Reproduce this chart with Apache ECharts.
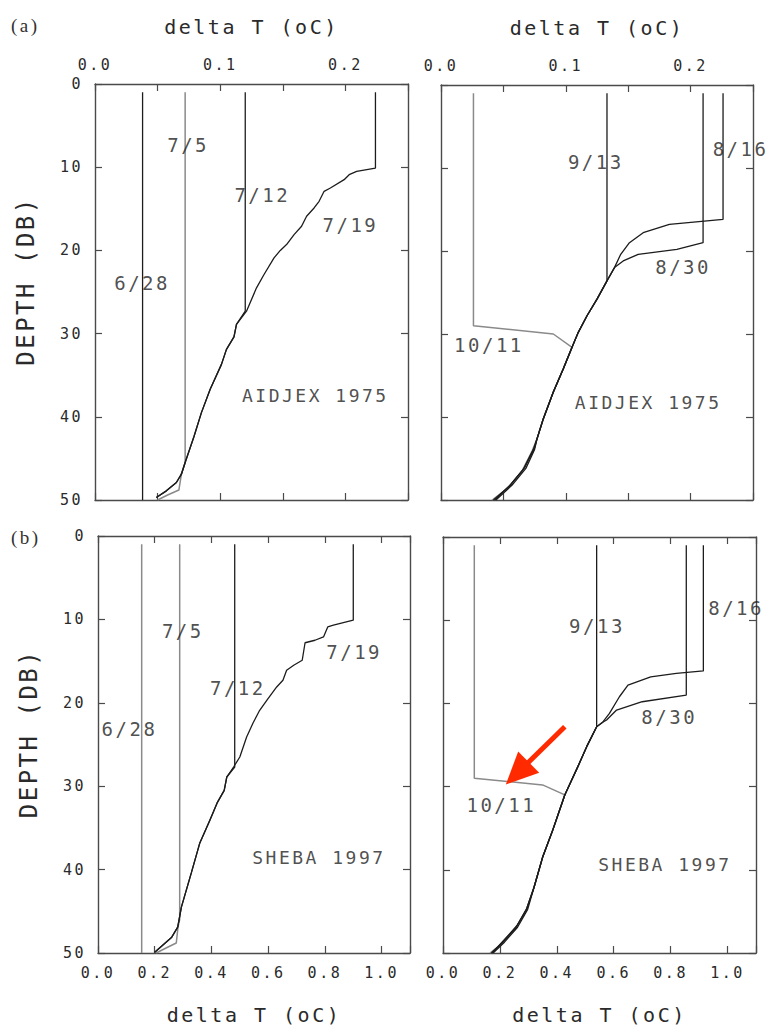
<!DOCTYPE html>
<html>
<head>
<meta charset="utf-8">
<script src="https://cdn.jsdelivr.net/npm/echarts@6/dist/echarts.min.js"></script>
<style>
  html, body { margin: 0; padding: 0; background: #fff; }
  #chart { width: 770px; height: 1029px; letter-spacing: 2.5px; }
</style>
</head>
<body>
<div id="chart"></div>
<script>
// Temperature departure (delta T, oC) versus depth (db) for the upper ocean.
// Row (a): AIDJEX 1975, row (b): SHEBA 1997. Left: early summer, right: late summer.

// ---- (a) AIDJEX 1975, early summer ----
const aidjexEarlyDates = ['6/28', '7/5', '7/12', '7/19'];
const aidjexEarlyHeads = [
  [[0.038, 1], [0.038, 50]],
  [[0.072, 1], [0.072, 45.5], [0.069, 46.9], [0.067, 48.8], [0.058, 49.4], [0.050, 50]],
  [[0.120, 1], [0.120, 27.3]],
  [[0.224, 1]]
];
const aidjexEarlyCurve = [
  [0.224, 10.1], [0.209, 10.5], [0.203, 10.9], [0.199, 11.5], [0.188, 12.5], [0.183, 12.9],
  [0.179, 14.1], [0.175, 14.9], [0.169, 15.9], [0.165, 17.1], [0.159, 18.1], [0.153, 19.3],
  [0.148, 20.0], [0.143, 20.9], [0.135, 22.9], [0.129, 24.5], [0.121, 27.3], [0.113, 28.9],
  [0.111, 30.4], [0.105, 31.9], [0.101, 33.7], [0.092, 36.7], [0.085, 39.5], [0.079, 42.4],
  [0.072, 45.5], [0.069, 46.9], [0.065, 47.9], [0.057, 48.9], [0.049, 49.7]
];
const aidjexEarlyDeep = [[], [], [], []];
const aidjexEarlyLabels = ['7/5', '7/12', '7/19', '6/28', 'AIDJEX 1975'];
const aidjexEarlyLabelAt = [[0.0744, 7.3], [0.1336, 13.3], [0.204, 16.9], [0.0376, 23.9], [0.176, 37.4]];

// ---- (a) AIDJEX 1975, late summer ----
const aidjexLateDates = ['8/16', '8/30', '9/13', '10/11'];
const aidjexLateHeads = [
  [[0.226, 1], [0.226, 16.2], [0.183, 16.8], [0.162, 17.8], [0.151, 19.0], [0.144, 20.4], [0.139, 22.0]],
  [[0.210, 1], [0.210, 19.0], [0.189, 19.8], [0.158, 20.4], [0.146, 21.2], [0.139, 22.0]],
  [[0.133, 1], [0.133, 23.6]],
  [[0.026, 1], [0.026, 29.0], [0.090, 30.0], [0.105, 31.6]]
];
const aidjexLateCurve = [
  [0.139, 22.0], [0.133, 23.6], [0.125, 25.8], [0.117, 27.8], [0.110, 29.8], [0.105, 31.6],
  [0.098, 34.2], [0.090, 37.0], [0.082, 40.2], [0.077, 42.6]
];
const aidjexLateDeep = [
  [[0.075, 43.9], [0.068, 46.2], [0.057, 48.2], [0.044, 50]],
  [[0.074, 43.9], [0.066, 46.3], [0.055, 48.3], [0.042, 50]],
  [[0.075, 43.7], [0.067, 46.1], [0.056, 48.1], [0.043, 50]],
  [[0.073, 44.1], [0.065, 46.5], [0.054, 48.5], [0.041, 50]]
];
const aidjexLateLabels = ['8/16', '9/13', '8/30', '10/11', 'AIDJEX 1975'];
const aidjexLateLabelAt = [[0.240, 7.7], [0.124, 9.3], [0.194, 21.9], [0.0384, 31.3], [0.166, 38.2]];

// ---- (b) SHEBA 1997, early summer ----
const shebaEarlyDates = ['6/28', '7/5', '7/12', '7/19'];
const shebaEarlyHeads = [
  [[0.154, 1], [0.154, 50]],
  [[0.288, 1], [0.288, 46.0], [0.282, 46.9], [0.276, 48.8], [0.240, 49.4], [0.205, 50]],
  [[0.482, 1], [0.482, 27.7]],
  [[0.900, 1]]
];
const shebaEarlyCurve = [
  [0.900, 10.1], [0.830, 10.7], [0.810, 10.9], [0.795, 12.1], [0.765, 12.5], [0.730, 12.8],
  [0.720, 14.9], [0.690, 15.5], [0.665, 16.1], [0.652, 17.3], [0.630, 18.1], [0.595, 19.7],
  [0.570, 20.9], [0.547, 22.4], [0.524, 24.1], [0.500, 26.5], [0.478, 27.7], [0.454, 28.9],
  [0.445, 30.5], [0.420, 32.0], [0.394, 34.1], [0.359, 36.8], [0.329, 40.4], [0.294, 44.5],
  [0.281, 46.9], [0.260, 48.1], [0.230, 49.0], [0.200, 49.9]
];
const shebaEarlyDeep = [[], [], [], []];
const shebaEarlyLabels = ['7/5', '7/19', '7/12', '6/28', 'SHEBA 1997'];
const shebaEarlyLabelAt = [[0.299, 11.4], [0.903, 13.9], [0.493, 18.2], [0.111, 23.1], [0.779, 38.6]];

// ---- (b) SHEBA 1997, late summer ----
const shebaLateDates = ['8/16', '8/30', '9/13', '10/11'];
const shebaLateHeads = [
  [[0.915, 1], [0.915, 16.1], [0.820, 16.4], [0.730, 16.8], [0.650, 17.8], [0.620, 19.2], [0.585, 21.2], [0.560, 22.3]],
  [[0.855, 1], [0.855, 19.0], [0.700, 19.8], [0.610, 20.8], [0.575, 22.0], [0.560, 22.3]],
  [[0.540, 1], [0.540, 22.8]],
  [[0.110, 1], [0.110, 29.0], [0.350, 29.8], [0.428, 31.0]]
];
const shebaLateCurve = [
  [0.560, 22.3], [0.540, 22.8], [0.505, 25.2], [0.474, 27.6], [0.428, 31.0], [0.386, 35.2],
  [0.350, 38.5], [0.320, 42.1]
];
const shebaLateDeep = [
  [[0.297, 44.8], [0.262, 46.9], [0.216, 48.7], [0.176, 50]],
  [[0.293, 44.8], [0.257, 46.9], [0.210, 48.7], [0.170, 50]],
  [[0.295, 44.6], [0.260, 46.7], [0.213, 48.5], [0.173, 50]],
  [[0.291, 45.0], [0.254, 47.1], [0.206, 48.9], [0.165, 50]]
];
const shebaLateLabels = ['8/16', '9/13', '8/30', '10/11', 'SHEBA 1997'];
const shebaLateLabelAt = [[1.030, 8.5], [0.541, 10.7], [0.795, 21.6], [0.205, 32.2], [0.780, 39.4]];

// Arrow pointing at the 10/11 SHEBA profile (tail, head)
const shebaArrow = [[0.428, 22.8], [0.261, 28.4]];

// Axis ranges
const depthRange = [0, 50];
const aidjexTRange = [0, 0.25];
const shebaTRange = [0, 1.1];

// ------------------------------------------------------------------
const MONO = 'DejaVu Sans Mono';
const INK = '#1c1c1c';
const FRAME = '#4a4a4a';
const PALE = '#8a8a8a';

const panels = [
  { heads: aidjexEarlyHeads, curve: aidjexEarlyCurve, deep: aidjexEarlyDeep, dates: aidjexEarlyDates,
    labels: aidjexEarlyLabels, labelAt: aidjexEarlyLabelAt, tRange: aidjexTRange, row: 0, col: 0, pale: ['7/5'] },
  { heads: aidjexLateHeads, curve: aidjexLateCurve, deep: aidjexLateDeep, dates: aidjexLateDates,
    labels: aidjexLateLabels, labelAt: aidjexLateLabelAt, tRange: aidjexTRange, row: 0, col: 1, pale: ['10/11'] },
  { heads: shebaEarlyHeads, curve: shebaEarlyCurve, deep: shebaEarlyDeep, dates: shebaEarlyDates,
    labels: shebaEarlyLabels, labelAt: shebaEarlyLabelAt, tRange: shebaTRange, row: 1, col: 0, pale: ['6/28', '7/5'] },
  { heads: shebaLateHeads, curve: shebaLateCurve, deep: shebaLateDeep, dates: shebaLateDates,
    labels: shebaLateLabels, labelAt: shebaLateLabelAt, tRange: shebaTRange, row: 1, col: 1, pale: ['10/11'] }
];

const gridBoxes = [
  { left: 95, top: 84, width: 313, height: 416 },
  { left: 441, top: 85, width: 312, height: 415 },
  { left: 98, top: 536, width: 312, height: 417 },
  { left: 443, top: 537, width: 313, height: 416 }
];

const grid = [], xAxis = [], yAxis = [], series = [];

function tickText(step) {
  return function (v) {
    const k = v / step;
    return Math.abs(k - Math.round(k)) < 1e-6 ? v.toFixed(1) : '';
  };
}

panels.forEach(function (p, g) {
  grid.push(Object.assign({ containLabel: false }, gridBoxes[g]));
  const isTop = p.row === 0;
  const tickStep = isTop ? 0.05 : 0.2;
  const labelStep = isTop ? 0.1 : 0.2;
  const baseX = {
    type: 'value', gridIndex: g, min: p.tRange[0], max: p.tRange[1], interval: tickStep,
    splitLine: { show: false },
    axisLine: { show: true, onZero: false, lineStyle: { color: FRAME, width: 1.4 } },
    axisTick: { show: true, inside: true, length: 7, lineStyle: { color: FRAME, width: 1.2 } }
  };
  // labelled temperature axis (top for row a, bottom for row b)
  xAxis.push(Object.assign({}, baseX, {
    position: isTop ? 'top' : 'bottom',
    name: 'delta T (oC)', nameLocation: 'middle', nameGap: isTop ? 47 : 52,
    nameTextStyle: { fontFamily: MONO, fontSize: 20, color: '#2a2a2a' },
    axisLabel: { show: true, margin: 12, formatter: tickText(labelStep), fontFamily: MONO, fontSize: 15, color: '#2a2a2a' }
  }));
  // opposite frame edge
  xAxis.push(Object.assign({}, baseX, { position: isTop ? 'bottom' : 'top', axisLabel: { show: false } }));

  const baseY = {
    type: 'value', gridIndex: g, min: depthRange[0], max: depthRange[1], interval: 10, inverse: true,
    splitLine: { show: false },
    axisLine: { show: true, onZero: false, lineStyle: { color: FRAME, width: 1.4 } },
    axisTick: { show: true, inside: true, length: 7, lineStyle: { color: FRAME, width: 1.2 } }
  };
  const labelled = p.col === 0;
  yAxis.push(Object.assign({}, baseY, {
    position: 'left',
    name: labelled ? 'DEPTH (DB)' : '', nameLocation: 'middle', nameRotate: 90, nameGap: 57,
    nameTextStyle: { fontFamily: MONO, fontSize: 24, color: '#2a2a2a', padding: [0, 0, 0, 22] },
    axisLabel: { show: labelled, margin: 12, fontFamily: MONO, fontSize: 15, color: '#2a2a2a' }
  }));
  yAxis.push(Object.assign({}, baseY, { position: 'right', axisLabel: { show: false } }));

  // one profile per date: its own upper part, then the shared curve, then its own deep end
  p.dates.forEach(function (d, i) {
    const head = p.heads[i];
    const headEnd = head[head.length - 1][1];
    const deep = p.deep[i];
    const deepStart = deep.length ? deep[0][1] : Infinity;
    const mid = p.curve.filter(function (pt) { return pt[1] > headEnd && pt[1] < deepStart; });
    const pts = headEnd >= 50 ? head : head.concat(mid, deep);
    const pale = p.pale.indexOf(d) >= 0;
    series.push({
      type: 'line', name: d, xAxisIndex: 2 * g, yAxisIndex: 2 * g,
      data: pts, showSymbol: false, silent: true, animation: false,
      lineStyle: { color: pale ? PALE : INK, width: pale ? 1.5 : 1.3 },
      z: pale ? 2 : 3
    });
  });

  // date and campaign annotations
  series.push({
    type: 'scatter', xAxisIndex: 2 * g, yAxisIndex: 2 * g, symbolSize: 0, silent: true, animation: false,
    data: p.labels.map(function (t, i) {
      const campaign = t.length > 6;
      return {
        name: t, value: p.labelAt[i],
        label: { fontSize: campaign ? 18 : 19 }
      };
    }),
    label: { show: true, position: 'inside', formatter: '{b}', fontFamily: MONO, color: '#222' },
    z: 5
  });
});

// red arrow in the SHEBA late-summer panel
series.push({
  type: 'line', xAxisIndex: 6, yAxisIndex: 6, data: [], silent: true, animation: false,
  markLine: {
    silent: true, animation: false,
    symbol: ['none', 'triangle'], symbolSize: [30, 32],
    label: { show: false },
    lineStyle: { color: '#ff2a00', width: 5, type: 'solid' },
    data: [[{ coord: shebaArrow[0] }, { coord: shebaArrow[1] }]]
  }
});

const chart = echarts.init(document.getElementById('chart'), null, { renderer: 'svg' });
chart.setOption({
  backgroundColor: '#ffffff',
  animation: false,
  title: [
    { text: '(a)', left: 11, top: 16, padding: 0, textStyle: { fontFamily: 'Liberation Serif', fontSize: 19, fontWeight: 'normal', color: '#333' } },
    { text: '(b)', left: 11, top: 528, padding: 0, textStyle: { fontFamily: 'Liberation Serif', fontSize: 19, fontWeight: 'normal', color: '#333' } }
  ],
  grid: grid,
  xAxis: xAxis,
  yAxis: yAxis,
  series: series
});
</script>
</body>
</html>
